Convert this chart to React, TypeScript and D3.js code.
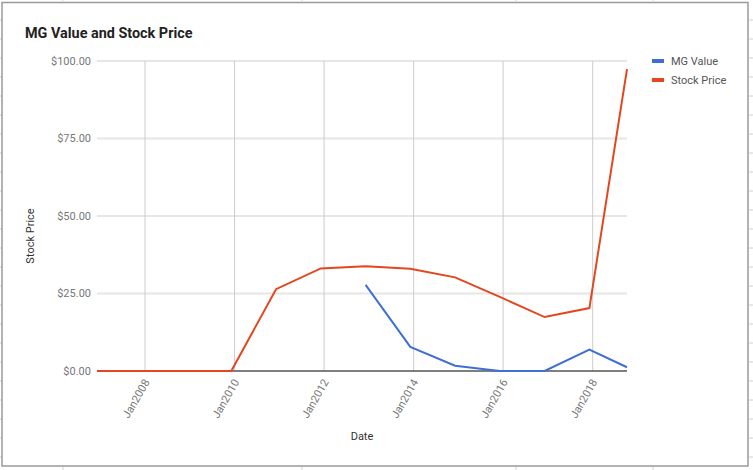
import React from "react";
import * as d3 from "d3";

const dateLabels: string[] = [
  "2006-12-05", "2007-12-05", "2008-12-05", "2009-12-05", "2010-12-05",
  "2011-12-05", "2012-12-05", "2013-12-05", "2014-12-05", "2015-12-05",
  "2016-12-05", "2017-12-05", "2018-10-08",
];
const stockPrice: number[] = [0, 0, 0, 0, 26.4, 33.1, 33.8, 33.0, 30.2, 23.9, 17.4, 20.3, 97.4];
const mgValue: (number | null)[] = [null, null, null, null, null, null, 27.8, 7.8, 1.7, 0, 0, 6.9, 1.2];
const yTicks: number[] = [0, 25, 50, 75, 100];
const seriesNames: string[] = ["MG Value", "Stock Price"];
const seriesColors: string[] = ["#3f6fd4", "#e2471f"];

const W = 753;
const H = 470;
const margin = { left: 97, right: 126, top: 61, bottom: 99 };

export default function App() {
  const parse = d3.timeParse("%Y-%m-%d");
  const dates = dateLabels.map((d) => parse(d) as Date);
  const x = d3
    .scaleTime()
    .domain(d3.extent(dates) as [Date, Date])
    .range([margin.left, W - margin.right]);
  const y = d3.scaleLinear().domain([0, 100]).range([H - margin.bottom, margin.top]);
  const xTicks = x.ticks(d3.timeYear.every(2) as any);
  const fmtX = d3.timeFormat("%b%Y");
  const fmtY = d3.format("$.2f");

  const line = d3
    .line<[Date, number | null]>()
    .defined((d) => d[1] !== null)
    .x((d) => x(d[0]))
    .y((d) => y(d[1] as number));

  const stockPts: [Date, number | null][] = dates.map((d, i) => [d, stockPrice[i]]);
  const mgPts: [Date, number | null][] = dates.map((d, i) => [d, mgValue[i]]);

  const font = "Roboto, Arial, sans-serif";
  const rowTicks = d3.range(20, H, 19);
  const colTicks = [63, 302, 516, 653];

  return (
    <svg
      width={W}
      height={H}
      style={{ position: "absolute", left: 0, top: 0, background: "#fff" }}
      fontFamily={font}
    >
      {rowTicks.map((t) => (
        <g key={"r" + t}>
          <line x1={0} x2={2} y1={t} y2={t} stroke="#d0d0d0" />
          <line x1={749} x2={753} y1={t} y2={t} stroke="#d0d0d0" />
        </g>
      ))}
      {colTicks.map((t) => (
        <g key={"c" + t}>
          <line x1={t} x2={t} y1={467} y2={470} stroke="#d0d0d0" />
          <line x1={t} x2={t} y1={0} y2={1} stroke="#d0d0d0" />
        </g>
      ))}
      <rect x={2} y={2.5} width={746} height={463.5} fill="#fff" stroke="#9a9a9a" strokeWidth={1.5} />

      <text x={25} y={38} fontSize={14.4} fontWeight="bold" fill="#222">
        MG Value and Stock Price
      </text>

      {yTicks.filter((t) => t !== 0).map((t) => (
        <line
          key={"hg" + t}
          x1={margin.left}
          x2={W - margin.right}
          y1={y(t)}
          y2={y(t)}
          stroke="#e6e6e6"
          strokeWidth={2}
        />
      ))}
      {xTicks.map((t) => (
        <line
          key={"vg" + t.getTime()}
          x1={x(t)}
          x2={x(t)}
          y1={margin.top}
          y2={H - margin.bottom}
          stroke="#cccccc"
          strokeWidth={1}
        />
      ))}
      <line
        x1={margin.left}
        x2={W - margin.right}
        y1={y(0)}
        y2={y(0)}
        stroke="#555"
        strokeWidth={1.5}
      />

      {yTicks.map((t) => (
        <text
          key={"yt" + t}
          x={91}
          y={y(t)}
          dy="0.35em"
          textAnchor="end"
          fontSize={11}
          fill="#777"
        >
          {fmtY(t)}
        </text>
      ))}
      {xTicks.map((t) => (
        <text
          key={"xt" + t.getTime()}
          transform={`translate(${x(t) + 5},${y(0) + 11}) rotate(-60)`}
          textAnchor="end"
          fontSize={11}
          fill="#777"
        >
          {fmtX(t)}
        </text>
      ))}

      <text
        transform={`translate(34,236) rotate(-90)`}
        textAnchor="middle"
        fontSize={11}
        fill="#333"
      >
        Stock Price
      </text>
      <text x={362} y={440} textAnchor="middle" fontSize={11} fill="#333">
        Date
      </text>

      <path d={line(stockPts) || ""} fill="none" stroke={seriesColors[1]} strokeWidth={2} />
      <path d={line(mgPts) || ""} fill="none" stroke={seriesColors[0]} strokeWidth={2} />

      {seriesNames.map((n, i) => (
        <g key={n} transform={`translate(652,${61 + i * 19})`}>
          <rect x={0} y={-2} width={12} height={4} fill={seriesColors[i]} />
          <text x={19} y={0} dy="0.35em" fontSize={11} fill="#555">
            {n}
          </text>
        </g>
      ))}
    </svg>
  );
}
